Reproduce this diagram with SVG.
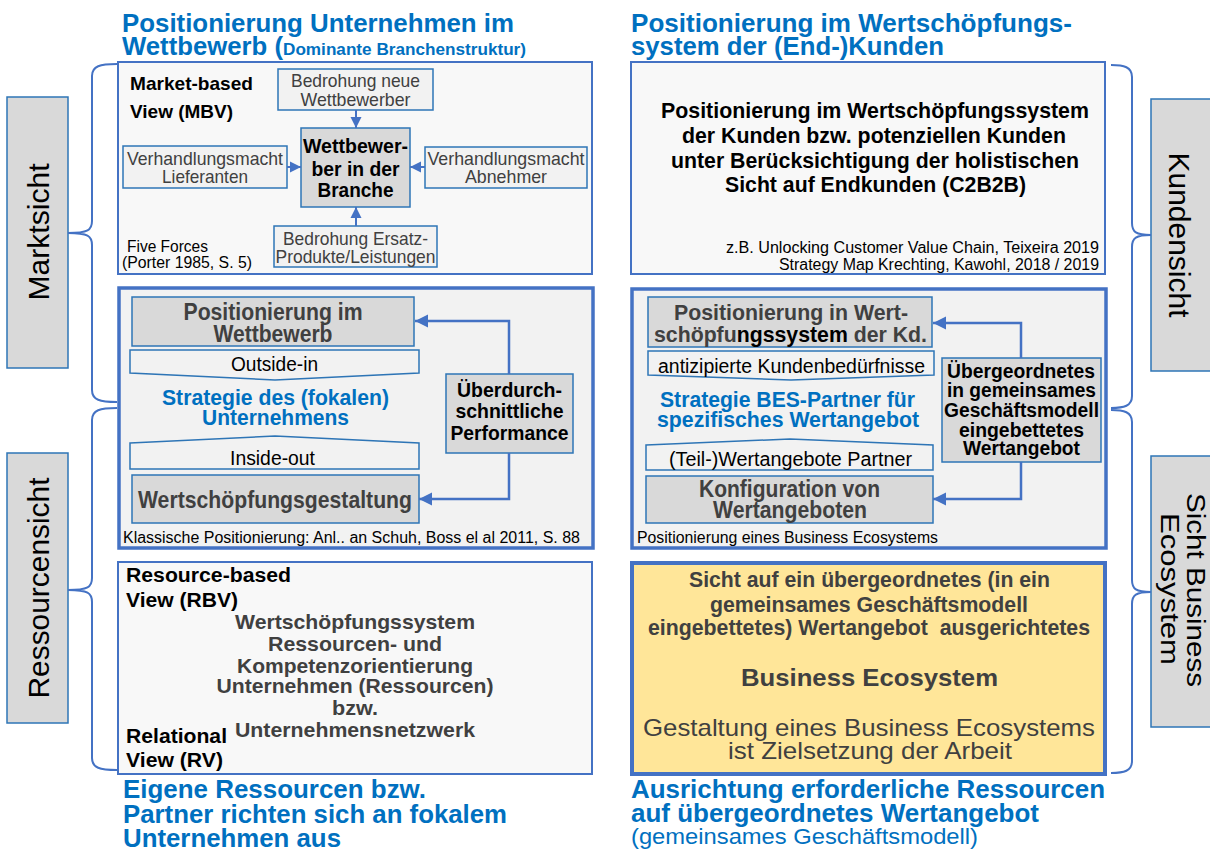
<svg xmlns="http://www.w3.org/2000/svg" width="1210" height="852" viewBox="0 0 1210 852">
<defs>
<style>
text{font-family:"Liberation Sans",Arial,sans-serif}
.b{font-weight:bold}
.g{fill:#404040}
.k{fill:#000}
.bl{fill:#0070C0}
.c{text-anchor:middle}
.e{text-anchor:end}
.big{fill:#F8F8F8;stroke:#4472C4;stroke-width:2}
.thick{fill:#F2F2F2;stroke:#4472C4;stroke-width:3.5}
.sm{fill:#F2F2F2;stroke:#2E75B6;stroke-width:1.5}
.dk{fill:#D9D9D9;stroke:#2E75B6;stroke-width:1.5}
.side{fill:#D9D9D9;stroke:#2E75B6;stroke-width:1.5}
.brace{fill:none;stroke:#4472C4;stroke-width:2}
.con{fill:none;stroke:#4472C4;stroke-width:2}
.con2{fill:none;stroke:#4472C4;stroke-width:2.5}
</style>
<marker id="ah" viewBox="0 0 10 10" refX="10" refY="5" markerWidth="11" markerHeight="12" markerUnits="userSpaceOnUse" orient="auto">
<path d="M0,0 L10,5 L0,10 z" fill="#4472C4"/>
</marker>
<marker id="ah2" viewBox="0 0 10 10" refX="10" refY="5" markerWidth="13" markerHeight="14" markerUnits="userSpaceOnUse" orient="auto">
<path d="M0,0 L10,5 L0,10 z" fill="#4472C4"/>
</marker>
</defs>
<rect width="1210" height="852" fill="#FFFFFF"/>

<!-- Side labels -->
<g id="marktsicht">
<rect class="side" x="7" y="97" width="61" height="271"/>
<text transform="translate(49,232) rotate(-90)" class="c k" font-size="29" textLength="137" lengthAdjust="spacingAndGlyphs">Marktsicht</text>
</g>
<g id="ressourcensicht">
<rect class="side" x="7" y="453" width="61" height="270"/>
<text transform="translate(49,588) rotate(-90)" class="c k" font-size="29" textLength="221" lengthAdjust="spacingAndGlyphs">Ressourcensicht</text>
</g>
<g id="kundensicht">
<rect class="side" x="1151" y="99" width="70" height="272"/>
<text transform="translate(1169,235) rotate(90)" class="c k" font-size="29" textLength="165" lengthAdjust="spacingAndGlyphs">Kundensicht</text>
</g>
<g id="sichtbes">
<rect class="side" x="1151" y="456" width="70" height="271"/>
<text transform="translate(1187,590) rotate(90)" class="c k" font-size="26" textLength="194" lengthAdjust="spacingAndGlyphs">Sicht Business</text>
<text transform="translate(1161,589) rotate(90)" class="c k" font-size="26" textLength="152" lengthAdjust="spacingAndGlyphs">Ecosystem</text>
</g>

<!-- Braces -->
<g id="braces">
<path class="brace" d="M117,64 C100,64 92,66 92,76 L92,221 C92,230 88,233 68,233 C88,233 92,236 92,245 L92,390 C92,400 100,402 117,402"/>
<path class="brace" d="M117,408 C100,408 92,410 92,420 L92,578 C92,587 88,590 68,590 C88,590 92,593 92,602 L92,758 C92,768 100,770 117,770"/>
<path class="brace" d="M1111,65 C1124,65 1132,67 1132,77 L1132,223 C1132,232 1136,235 1151,235 C1136,235 1132,238 1132,247 L1132,396 C1132,406 1124,408 1111,408"/>
<path class="brace" d="M1111,410 C1124,410 1132,412 1132,422 L1132,580 C1132,589 1136,592 1151,592 C1136,592 1132,595 1132,604 L1132,761 C1132,771 1124,773 1111,773"/>
</g>

<!-- Headers -->
<g id="header-left">
<text class="b bl" x="122" y="32" font-size="25" textLength="392" lengthAdjust="spacingAndGlyphs">Positionierung Unternehmen im</text>
<text class="b bl" x="122" y="55" font-size="25"><tspan textLength="161" lengthAdjust="spacingAndGlyphs">Wettbewerb (</tspan><tspan font-size="16.5" textLength="243" lengthAdjust="spacingAndGlyphs">Dominante Branchenstruktur)</tspan></text>
</g>
<g id="header-right">
<text class="b bl" x="631" y="32" font-size="25" textLength="441" lengthAdjust="spacingAndGlyphs">Positionierung im Wertschöpfungs-</text>
<text class="b bl" x="631" y="55" font-size="25" textLength="313" lengthAdjust="spacingAndGlyphs">system der (End-)Kunden</text>
</g>

<!-- MBV box -->
<g id="mbv">
<rect class="big" x="118" y="62" width="474" height="212"/>
<text class="b k" x="130" y="90" font-size="19" textLength="123" lengthAdjust="spacingAndGlyphs">Market-based</text>
<text class="b k" x="130" y="118" font-size="19" textLength="103" lengthAdjust="spacingAndGlyphs">View (MBV)</text>
<text class="k" x="127" y="252" font-size="16" textLength="81" lengthAdjust="spacingAndGlyphs">Five Forces</text>
<text class="k" x="122" y="268" font-size="16" textLength="130" lengthAdjust="spacingAndGlyphs">(Porter 1985, S. 5)</text>
</g>
<g id="bedrohung-neue">
<rect class="sm" x="278" y="69" width="155" height="41"/>
<text class="c g" x="355.5" y="87" font-size="19" textLength="129" lengthAdjust="spacingAndGlyphs">Bedrohung neue</text>
<text class="c g" x="355.5" y="106" font-size="19" textLength="110" lengthAdjust="spacingAndGlyphs">Wettbewerber</text>
</g>
<g id="wettbewerber">
<rect class="dk" x="301" y="128" width="109" height="79"/>
<text class="c b k" x="355.5" y="153" font-size="21" textLength="105" lengthAdjust="spacingAndGlyphs">Wettbewer-</text>
<text class="c b k" x="355.5" y="176" font-size="21" textLength="88" lengthAdjust="spacingAndGlyphs">ber in der</text>
<text class="c b k" x="355.5" y="197" font-size="21" textLength="76" lengthAdjust="spacingAndGlyphs">Branche</text>
</g>
<g id="lieferanten">
<rect class="sm" x="123" y="146" width="164" height="42"/>
<text class="c g" x="205" y="165" font-size="19" textLength="156" lengthAdjust="spacingAndGlyphs">Verhandlungsmacht</text>
<text class="c g" x="205" y="183" font-size="19" textLength="86" lengthAdjust="spacingAndGlyphs">Lieferanten</text>
</g>
<g id="abnehmer">
<rect class="sm" x="425" y="147" width="162" height="41"/>
<text class="c g" x="506" y="165" font-size="19" textLength="157" lengthAdjust="spacingAndGlyphs">Verhandlungsmacht</text>
<text class="c g" x="506" y="183" font-size="19" textLength="82" lengthAdjust="spacingAndGlyphs">Abnehmer</text>
</g>
<g id="ersatz">
<rect class="sm" x="274" y="226" width="163" height="41"/>
<text class="c g" x="355.5" y="245" font-size="19" textLength="145" lengthAdjust="spacingAndGlyphs">Bedrohung Ersatz-</text>
<text class="c g" x="355.5" y="263" font-size="19" textLength="160" lengthAdjust="spacingAndGlyphs">Produkte/Leistungen</text>
</g>

<!-- Middle left -->
<g id="klassisch">
<rect class="thick" x="119" y="288" width="474" height="260"/>
<text class="b bl c" x="275.5" y="405" font-size="22" textLength="227" lengthAdjust="spacingAndGlyphs">Strategie des (fokalen)</text>
<text class="b bl c" x="275.5" y="425" font-size="22" textLength="147" lengthAdjust="spacingAndGlyphs">Unternehmens</text>
<text class="k" x="123" y="543" font-size="16" textLength="457" lengthAdjust="spacingAndGlyphs">Klassische Positionierung: Anl.. an Schuh, Boss el al 2011, S. 88</text>
</g>
<g id="pos-wettbewerb">
<rect class="dk" x="132" y="297" width="282" height="49"/>
<text class="c b g" x="273" y="320" font-size="23" textLength="179" lengthAdjust="spacingAndGlyphs">Positionierung im</text>
<text class="c b g" x="273" y="342" font-size="23" textLength="119" lengthAdjust="spacingAndGlyphs">Wettbewerb</text>
</g>
<g id="outside-in">
<path class="sm" stroke-width="2" d="M130,350 H419 V373 L275,380 L130,373 Z"/>
<text class="c k" x="274.5" y="371" font-size="20" textLength="87" lengthAdjust="spacingAndGlyphs">Outside-in</text>
</g>
<g id="inside-out">
<path class="sm" stroke-width="2" d="M130,443 L275,436 L419,443 V469 H130 Z"/>
<text class="c k" x="272.5" y="465" font-size="20" textLength="85" lengthAdjust="spacingAndGlyphs">Inside-out</text>
</g>
<g id="wertschoepfungsgestaltung">
<rect class="dk" x="132" y="475" width="287" height="48"/>
<text class="c b g" x="275" y="508" font-size="24" textLength="274" lengthAdjust="spacingAndGlyphs">Wertschöpfungsgestaltung</text>
</g>
<g id="performance">
<rect class="dk" x="446" y="374" width="127" height="79"/>
<text class="c b k" x="509.5" y="397" font-size="21" textLength="105" lengthAdjust="spacingAndGlyphs">Überdurch-</text>
<text class="c b k" x="509.5" y="418" font-size="21" textLength="108" lengthAdjust="spacingAndGlyphs">schnittliche</text>
<text class="c b k" x="509.5" y="440" font-size="21" textLength="118" lengthAdjust="spacingAndGlyphs">Performance</text>
</g>

<!-- Bottom left -->
<g id="rbv">
<rect class="big" x="118" y="562" width="474" height="212"/>
<text class="b k" x="126" y="582" font-size="20" textLength="165" lengthAdjust="spacingAndGlyphs">Resource-based</text>
<text class="b k" x="126" y="607" font-size="20" textLength="112" lengthAdjust="spacingAndGlyphs">View (RBV)</text>
<text class="c b g" x="355" y="629" font-size="21" textLength="240" lengthAdjust="spacingAndGlyphs">Wertschöpfungssystem</text>
<text class="c b g" x="355" y="651" font-size="21" textLength="174" lengthAdjust="spacingAndGlyphs">Ressourcen- und</text>
<text class="c b g" x="355" y="673" font-size="21" textLength="236" lengthAdjust="spacingAndGlyphs">Kompetenzorientierung</text>
<text class="c b g" x="355" y="693" font-size="21" textLength="277" lengthAdjust="spacingAndGlyphs">Unternehmen (Ressourcen)</text>
<text class="c b g" x="355" y="715" font-size="21" textLength="46" lengthAdjust="spacingAndGlyphs">bzw.</text>
<text class="c b g" x="355" y="737" font-size="21" textLength="240" lengthAdjust="spacingAndGlyphs">Unternehmensnetzwerk</text>
<text class="b k" x="126" y="743" font-size="20" textLength="101" lengthAdjust="spacingAndGlyphs">Relational</text>
<text class="b k" x="126" y="767" font-size="20" textLength="97" lengthAdjust="spacingAndGlyphs">View (RV)</text>
</g>
<g id="footer-left">
<text class="b bl" x="123" y="798" font-size="25" textLength="303" lengthAdjust="spacingAndGlyphs">Eigene Ressourcen bzw.</text>
<text class="b bl" x="123" y="823" font-size="25" textLength="384" lengthAdjust="spacingAndGlyphs">Partner richten sich an fokalem</text>
<text class="b bl" x="123" y="847" font-size="25" textLength="218" lengthAdjust="spacingAndGlyphs">Unternehmen aus</text>
</g>

<!-- Top right -->
<g id="kunden">
<rect class="big" x="631" y="62" width="474" height="212"/>
<text class="c b k" x="875" y="118" font-size="22" textLength="428" lengthAdjust="spacingAndGlyphs">Positionierung im Wertschöpfungssystem</text>
<text class="c b k" x="874" y="143" font-size="22" textLength="384" lengthAdjust="spacingAndGlyphs">der Kunden bzw. potenziellen Kunden</text>
<text class="c b k" x="875" y="168" font-size="22" textLength="408" lengthAdjust="spacingAndGlyphs">unter Berücksichtigung der holistischen</text>
<text class="c b k" x="875.5" y="192" font-size="22" textLength="301" lengthAdjust="spacingAndGlyphs">Sicht auf Endkunden (C2B2B)</text>
<text class="e k" x="1099" y="253" font-size="16" textLength="373" lengthAdjust="spacingAndGlyphs">z.B. Unlocking Customer Value Chain, Teixeira 2019</text>
<text class="e k" x="1099" y="270" font-size="16" textLength="320" lengthAdjust="spacingAndGlyphs">Strategy Map Krechting, Kawohl, 2018 / 2019</text>
</g>

<!-- Middle right -->
<g id="bes">
<rect class="thick" x="632" y="289" width="474" height="259"/>
<text class="c b bl" x="787.5" y="407" font-size="22" textLength="255" lengthAdjust="spacingAndGlyphs">Strategie BES-Partner für</text>
<text class="c b bl" x="788" y="427" font-size="22" textLength="262" lengthAdjust="spacingAndGlyphs">spezifisches Wertangebot</text>
<text class="k" x="637" y="543" font-size="16" textLength="301" lengthAdjust="spacingAndGlyphs">Positionierung eines Business Ecosystems</text>
</g>
<g id="pos-wertschoepfung">
<rect class="dk" x="648" y="297" width="284" height="50"/>
<text class="c b g" x="791" y="320" font-size="22" textLength="234" lengthAdjust="spacingAndGlyphs">Positionierung in Wert-</text>
<text class="c b g" x="790.5" y="342" font-size="22" textLength="273" lengthAdjust="spacingAndGlyphs">schöpfu<tspan class="k">ngssystem</tspan> der Kd.</text>
</g>
<g id="kundenbeduerfnisse">
<path class="sm" stroke-width="2" d="M648,351 H934 V375 L791,380 L648,375 Z"/>
<text class="c k" x="791.5" y="373" font-size="20" textLength="267" lengthAdjust="spacingAndGlyphs">antizipierte Kundenbedürfnisse</text>
</g>
<g id="teilwertangebote">
<path class="sm" stroke-width="2" d="M646,445 L790,439 L933,445 V470 H646 Z"/>
<text class="c k" x="790.5" y="466" font-size="20" textLength="243" lengthAdjust="spacingAndGlyphs">(Teil-)Wertangebote Partner</text>
</g>
<g id="konfiguration">
<rect class="dk" x="646" y="476" width="287" height="47"/>
<text class="c b g" x="789.5" y="497" font-size="23" textLength="181" lengthAdjust="spacingAndGlyphs">Konfiguration von</text>
<text class="c b g" x="790" y="518" font-size="23" textLength="154" lengthAdjust="spacingAndGlyphs">Wertangeboten</text>
</g>
<g id="uebergeordnet">
<rect class="dk" x="942" y="358" width="159" height="104"/>
<text class="c b k" x="1021" y="378" font-size="20" textLength="148" lengthAdjust="spacingAndGlyphs">Übergeordnetes</text>
<text class="c b k" x="1021.5" y="397" font-size="20" textLength="149" lengthAdjust="spacingAndGlyphs">in gemeinsames</text>
<text class="c b k" x="1021.5" y="417" font-size="20" textLength="155" lengthAdjust="spacingAndGlyphs">Geschäftsmodell</text>
<text class="c b k" x="1021.5" y="437" font-size="20" textLength="125" lengthAdjust="spacingAndGlyphs">eingebettetes</text>
<text class="c b k" x="1021.5" y="455" font-size="20" textLength="117" lengthAdjust="spacingAndGlyphs">Wertangebot</text>
</g>

<!-- Bottom right -->
<g id="business-ecosystem">
<rect x="632" y="563" width="473" height="211" fill="#FFE699" stroke="#4472C4" stroke-width="4"/>
<text class="c b g" x="869.5" y="587" font-size="22" textLength="361" lengthAdjust="spacingAndGlyphs">Sicht auf ein übergeordnetes (in ein</text>
<text class="c b g" x="869" y="612" font-size="22" textLength="318" lengthAdjust="spacingAndGlyphs">gemeinsames Geschäftsmodell</text>
<text class="c b g" x="869" y="635" font-size="22" textLength="442" lengthAdjust="spacingAndGlyphs">eingebettetes) Wertangebot&#160; ausgerichtetes</text>
<text class="c b g" x="869.5" y="686" font-size="24" textLength="257" lengthAdjust="spacingAndGlyphs">Business Ecosystem</text>
<text class="c g" x="869" y="736" font-size="24" textLength="452" lengthAdjust="spacingAndGlyphs">Gestaltung eines Business Ecosystems</text>
<text class="c g" x="870" y="759" font-size="24" textLength="284" lengthAdjust="spacingAndGlyphs">ist Zielsetzung der Arbeit</text>
</g>
<g id="footer-right">
<text class="b bl" x="631" y="798" font-size="25" textLength="474" lengthAdjust="spacingAndGlyphs">Ausrichtung erforderliche Ressourcen</text>
<text class="b bl" x="631" y="822" font-size="25" textLength="408" lengthAdjust="spacingAndGlyphs">auf übergeordnetes Wertangebot</text>
<text class="bl" x="631" y="844" font-size="22" textLength="347" lengthAdjust="spacingAndGlyphs">(gemeinsames Geschäftsmodell)</text>
</g>

<!-- Connectors -->
<g id="connectors">
<line class="con" x1="356" y1="110" x2="356" y2="128" marker-end="url(#ah)"/>
<line class="con" x1="287" y1="167" x2="301" y2="167" marker-end="url(#ah)"/>
<line class="con" x1="425" y1="167" x2="410" y2="167" marker-end="url(#ah)"/>
<line class="con" x1="356" y1="226" x2="356" y2="207" marker-end="url(#ah)"/>
<polyline class="con2" points="509,374 509,321 415,321" marker-end="url(#ah2)"/>
<polyline class="con2" points="509,453 509,499 419,499" marker-end="url(#ah2)"/>
<polyline class="con2" points="1021,358 1021,323 933,323" marker-end="url(#ah2)"/>
<polyline class="con2" points="1021,462 1021,499 933,499" marker-end="url(#ah2)"/>
</g>
</svg>
